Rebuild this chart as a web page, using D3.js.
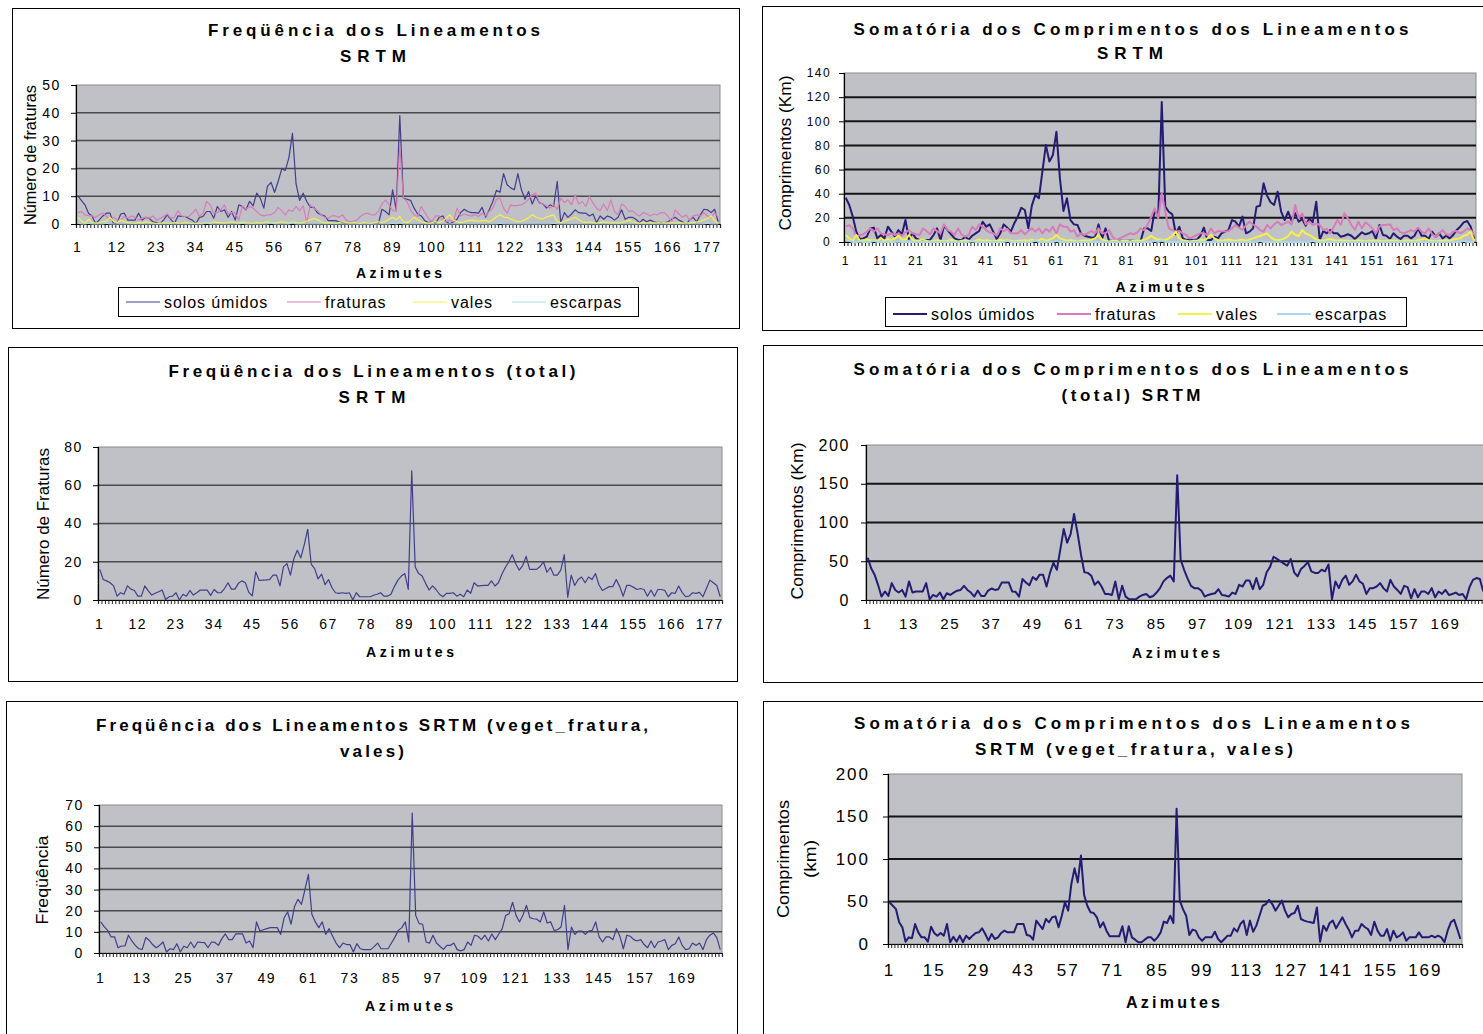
<!DOCTYPE html>
<html lang="pt">
<head>
<meta charset="UTF-8">
<title>Lineamentos SRTM</title>
<script src="https://cdnjs.cloudflare.com/ajax/libs/d3/7.8.5/d3.min.js"></script>
<style>
  html, body { margin: 0; padding: 0; background: #fff; }
  svg { display: block; font-family: "Liberation Sans", Arial, sans-serif; }
</style>
</head>
<body>
<script>
// azimuth classes 1..180
const azimutes = d3.range(1, 181);

const legendNames = ["solos úmidos", "fraturas", "vales", "escarpas"];

const labels11 = [1, 12, 23, 34, 45, 56, 67, 78, 89, 100, 111, 122, 133, 144, 155, 166, 177];
const labels10 = [1, 11, 21, 31, 41, 51, 61, 71, 81, 91, 101, 111, 121, 131, 141, 151, 161, 171];
const labels12 = [1, 13, 25, 37, 49, 61, 73, 85, 97, 109, 121, 133, 145, 157, 169];
const labels14 = [1, 15, 29, 43, 57, 71, 85, 99, 113, 127, 141, 155, 169];

const ticksFreq50 = [0, 10, 20, 30, 40, 50];
const ticksComp140 = [0, 20, 40, 60, 80, 100, 120, 140];
const ticksFreq80 = [0, 20, 40, 60, 80];
const ticksComp200 = [0, 50, 100, 150, 200];
const ticksFreq70 = [0, 10, 20, 30, 40, 50, 60, 70];

// --- Freqüência por tipo (SRTM)
const freqSolosUmidos = [
  10.1, 8.5, 6.9, 3.9, 2.9, 0, 1.5, 2.9, 3.9, 3.9,
  0, 0.5, 3.6, 3.9, 1.4, 1.4, 1.4, 3.9, 1.4, 2.4,
  2, 0.8, 0.5, 0, 1.5, 3.3, 1.7, 0.2, 2.9, 2.7,
  2.7, 2, 1.4, 0.2, 2.4, 2.7, 4.5, 4.5, 2.1, 6.3,
  4.5, 5.1, 2.4, 4.5, 1.4, 6.9, 6.3, 5.1, 8.1, 6.5,
  11.1, 9.3, 5.7, 13.5, 15, 11.4, 15.3, 19.8, 19.3, 23.8,
  32.6, 14.5, 8.5, 11.1, 8.1, 6, 6, 4, 3.3, 2.9,
  1.2, 1.2, 1.2, 0.8, 0.5, 0.2, 0, 0, 0, 0,
  0, 0, 0, 0, 0, 5.3, 4.5, 3.3, 12.3, 5.1,
  39, 9.3, 8.9, 8.5, 5.7, 3.6, 2.9, 1.2, 0.5, 0.8,
  0.2, 2.4, 2.9, 0.8, 0, 0.8, 1.7, 4.1, 5.3, 4.5,
  4.1, 4.1, 3.9, 6, 2.4, 5.1, 8.1, 12.1, 11.4, 18.1,
  14.1, 13, 12.3, 18.1, 12.3, 8.9, 11.7, 7.2, 10.1, 7.7,
  7.2, 5.7, 6.9, 6.3, 15.3, 0.5, 4.1, 2.4, 3.6, 5.1,
  4.1, 3.9, 3.9, 2.9, 3.6, 0.5, 2.9, 1.7, 2.9, 2.4,
  1.4, 2.4, 5.1, 1.7, 2.4, 2.4, 1.7, 0.5, 1.7, 0.8,
  1.4, 0.8, 0.5, 0.8, 0.5, 0.8, 1.7, 2.4, 1.4, 0.8,
  0, 1.4, 2.4, 0.8, 3.3, 5.3, 5.1, 4.1, 5.3, 0.8
];
const freqFraturas = [
  4.1, 4.5, 3.3, 3, 2.9, 2.4, 3.3, 3.9, 2.7, 1.7,
  2.4, 1.4, 1.4, 2.7, 2.1, 2.9, 2.4, 1.4, 2.1, 2.4,
  2.1, 2.9, 1.4, 2, 2.7, 3.6, 2.1, 2.4, 4.8, 2.9,
  2.7, 2.7, 3.9, 5.3, 2.7, 3.9, 8.1, 6.9, 3.9, 4.1,
  5.3, 6.9, 3.6, 4.1, 3.9, 1.4, 6.5, 5.3, 6.3, 5.7,
  4.5, 3.3, 2.9, 3.3, 3.3, 4.1, 6, 4.8, 3.3, 5.1,
  4.5, 6.3, 4.8, 6.5, 0.5, 6.9, 5.7, 4.8, 3.3, 2.4,
  2.1, 2.9, 2.9, 2.4, 3.3, 1.4, 0.8, 1, 1.4, 2.7,
  3.6, 3.9, 3.3, 3.3, 4.5, 7.2, 8.7, 6.9, 4.8, 4.5,
  28, 9.3, 8.1, 5.1, 3.3, 2.7, 6.3, 4.1, 2.1, 0.8,
  2.9, 2.9, 1.4, 0.8, 1.4, 1, 5.7, 2.9, 3.6, 3.2,
  2.9, 3.3, 2.7, 3.9, 2.9, 4.5, 5.7, 8.9, 9.3, 5.7,
  3.9, 6.9, 6.5, 6.7, 6.9, 7.7, 8.9, 10.5, 11.1, 7.7,
  7.2, 6.5, 5.7, 6.9, 5.3, 9.3, 7.7, 8.7, 6.9, 10.5,
  7.2, 8.1, 6.3, 9.9, 7.5, 5.7, 4.8, 7.2, 4.8, 8.7,
  4.5, 3.3, 7.2, 6.3, 4.5, 4.8, 3.6, 2.9, 4.1, 3.6,
  2.9, 3.6, 3.3, 4.1, 4.1, 2.7, 0.8, 5.1, 3.6, 2.4,
  3.3, 1.4, 2.9, 3.3, 2.9, 4.1, 2.9, 2.4, 4.1, 2.4
];
const freqVales = [
  2.4, 1.2, 0.2, 1.7, 0.5, 0.3, 0.5, 0.8, 1, 2.4,
  1, 0.5, 1.4, 0.8, 0.5, 0.3, 0.2, 0.5, 0.3, 0.8,
  0.5, 0.3, 0.2, 0.2, 0.5, 0.3, 0.2, 0.5, 0.3, 0.2,
  0.5, 0.3, 0.2, 0.3, 0.2, 0.3, 0.5, 0.2, 0.8, 0.5,
  0.5, 0.3, 0.5, 0.8, 0.5, 0.3, 0.8, 0.5, 0.3, 0.2,
  0.5, 0.3, 0.5, 0.8, 0.5, 0.3, 0.5, 0.8, 0.5, 0.3,
  0.8, 0.5, 0.3, 0.5, 1, 1.5, 2, 1.5, 0.8, 0.3,
  0.5, 0.3, 0.2, 0.5, 0.8, 0.5, 0.3, 0.5, 0.3, 0.2,
  0.5, 0.3, 0.2, 0.5, 0.8, 0.5, 1, 1.7, 2.4, 1.5,
  2.7, 0.8, 0.5, 1.2, 2.4, 1.5, 0.8, 0.5, 0.3, 0.5,
  0.8, 0.5, 1, 2.2, 3.3, 1.4, 0.8, 0.5, 0.8, 1.2,
  1.4, 1.2, 1, 1.2, 1.2, 0.8, 1.5, 2.5, 3.3, 2.5,
  2.4, 1.8, 1.2, 0.8, 1, 1.5, 2.2, 3.3, 2.5, 2,
  1.8, 2.5, 2.9, 3.3, 0.8, 0.5, 1, 1.5, 1.8, 2.4,
  1.5, 0.8, 0.5, 0.8, 0.5, 0.3, 0.5, 0.8, 0.5, 0.3,
  0.5, 0.3, 0.5, 0.8, 1.4, 0.8, 0.5, 0.3, 0.5, 0.3,
  0.5, 0.3, 0.5, 0.8, 0.5, 0.3, 0.5, 0.3, 0.5, 0.3,
  0.5, 0.3, 0.5, 0.8, 1, 1.5, 2, 2.9, 1.2, 0.3
];
const freqEscarpas = [
  0.5, 0, 0, 0.3, 0, 0, 0, 0, 0.3, 0,
  0, 0, 0, 0, 0, 0, 0, 0, 0, 0,
  0, 0, 0, 0, 0, 0, 0, 0, 0, 0,
  0, 0, 0, 0, 0, 0, 0.5, 0, 0, 0,
  0, 0, 0, 0, 0, 0, 0.3, 0, 0, 0,
  0, 0, 0, 0, 0.5, 0, 0, 0, 0, 0,
  0.5, 0, 0, 0, 0, 0, 0, 0, 0, 0,
  0, 0, 0, 0, 0, 0, 0, 0, 0, 0,
  0, 0, 0, 0, 0, 0, 0, 0, 0.3, 0,
  0.5, 0, 0, 0, 0, 0, 0, 0, 0, 0,
  0, 0, 0, 0, 0, 0, 0, 0, 0, 0,
  0, 0, 0, 0, 0, 0, 0, 0, 0.3, 0,
  0, 0, 0, 0, 0, 0, 0, 0, 0, 0,
  0, 0, 0, 0.3, 0, 0, 0, 0, 0, 0,
  0, 0, 0, 0, 0, 0, 0, 0, 0, 0,
  0, 0, 0, 0, 0, 0, 0, 0, 0, 0,
  0, 0, 0, 0, 0, 0, 0, 0, 0, 0,
  0, 0, 0, 0, 0, 0, 0.3, 0, 0, 0
];

// --- Somatória dos comprimentos por tipo (km)
const compSolosUmidos = [
  36.7, 30.7, 21, 8.6, 2.5, 3, 4.4, 11.3, 11.9, 3,
  5.8, 3, 12.7, 8.6, 4.4, 9.9, 6.4, 18.2, 2.5, 7.2,
  3, 1.7, 1.7, 1.7, 1.7, 5.8, 11.3, 1.7, 13.5, 9.9,
  6.4, 3, 1.7, 1.7, 4.4, 2, 5.2, 7.2, 9.1, 16.8,
  12.7, 14.6, 8.6, 2.5, 7.2, 14.6, 11.9, 8.6, 15.5, 21,
  28.4, 26.5, 11.3, 30.1, 39, 36.2, 58.3, 80.4, 66.6, 72.1,
  91.4, 52.7, 25.7, 36.2, 18.2, 14.6, 14.1, 7.2, 5.2, 4.4,
  3.6, 4, 14.6, 3, 11.3, 1, 1, 1, 1, 1,
  1, 1, 1, 1, 1, 11.3, 11.3, 9.1, 26.5, 21,
  116, 29.3, 25.1, 22.9, 6.4, 12.7, 3, 1.7, 2, 1.7,
  2, 5.2, 11.9, 1.7, 1.7, 4.4, 3, 7.2, 8.6, 9.9,
  18.2, 16.8, 12.7, 21, 7.2, 8.6, 11.3, 29.3, 30.1, 48.6,
  38.4, 32.9, 30.7, 41.7, 25.1, 18.2, 25.1, 17.4, 23.8, 16.8,
  19.1, 13.5, 19.6, 16.3, 33.4, 1.7, 9.1, 7.2, 9.9, 7.2,
  7.2, 4.4, 5.2, 6.4, 5.2, 2.5, 5.2, 8, 6.4, 7.2,
  9.1, 2.5, 14.1, 5.8, 5.2, 2.5, 7.2, 4.4, 2.5, 5.2,
  5.2, 3, 5.2, 11.3, 5.2, 5.2, 2.5, 8.6, 4.4, 7.2,
  3, 5.2, 3, 5.8, 9.9, 12.7, 16.3, 17.4, 12.7, 2.5
];
const compFraturas = [
  12.7, 14, 11.3, 4.4, 5.8, 6.4, 8.5, 11.3, 8.6, 11.3,
  7.2, 6.5, 5.8, 7.2, 5.8, 7.2, 5.2, 8, 9.9, 7.2,
  6.5, 5.8, 11.3, 9.1, 6.4, 11.3, 9, 7.2, 14.6, 10,
  8.6, 5.8, 11.3, 6, 4.4, 5.8, 12.7, 9.9, 14.6, 12.7,
  9.9, 8, 7.2, 5.2, 11.3, 9.1, 10.8, 7.2, 7.2, 7.2,
  9.9, 6.4, 9.1, 11.3, 8.6, 11.3, 7.2, 10.8, 8.6, 12.7,
  7.2, 14.6, 12.7, 12.7, 8.6, 9.9, 4.4, 7.2, 5.8, 7.5,
  9.1, 7.2, 11.3, 7.2, 7.2, 9.9, 4.4, 1.7, 3, 4.4,
  5.8, 7.2, 6.4, 8, 11.3, 9.9, 14.6, 21, 27.9, 19.6,
  40.3, 25.1, 11.3, 9.9, 8.6, 9.1, 7.2, 5.8, 3, 4.4,
  5.8, 7.2, 7.2, 5.8, 11.3, 7.2, 9.1, 8.8, 8.6, 9.1,
  11.3, 14.1, 11.9, 9.9, 14.1, 16.8, 14.5, 12.7, 9.9, 8.6,
  14.1, 11.3, 14.6, 16.8, 14.1, 15.5, 16.8, 14.6, 30.7, 19.6,
  23.8, 14.6, 16.8, 14.1, 15.5, 14.1, 9.9, 10.8, 7.2, 12.7,
  18.2, 14.1, 23.8, 19.6, 14.1, 9.9, 16.8, 11.3, 16.3, 14.1,
  11.3, 7.2, 12.7, 14.1, 14.3, 14.6, 9.9, 11.3, 8, 7.2,
  8.5, 9.9, 8.6, 11.9, 8.6, 7.2, 11.3, 6.4, 4.4, 7.2,
  9.9, 6.4, 5.8, 8.6, 9.1, 7.2, 8.6, 11.3, 9.9, 5.8
];
const compVales = [
  5.8, 3, 1, 5.8, 1, 1.5, 2, 1.5, 1.5, 1,
  3, 1, 2.5, 1.5, 3, 5.2, 2, 2, 5.8, 2,
  1, 1.5, 2, 1, 0.5, 1, 1.5, 1, 0.5, 1,
  2, 1, 0.5, 1, 1.5, 1, 0.5, 1, 2, 1,
  1.5, 1, 0.5, 1, 2, 1, 1.5, 1, 0.5, 1,
  1, 1.5, 1, 2, 1, 1.5, 2.5, 1, 2, 3,
  5.8, 3, 2, 1, 1.5, 1, 0.5, 1, 1.5, 1,
  2, 3, 5.8, 2, 1, 0.5, 1, 1, 0.5, 1,
  1, 0.5, 1, 1.5, 1, 2, 3, 5.2, 3, 2,
  2, 1.5, 3, 5, 8.6, 3, 1.5, 1, 0.5, 1,
  1, 2, 1.5, 3, 5.8, 3, 1.5, 1, 1.5, 2,
  1.5, 1, 1.5, 2, 1, 2, 3, 4, 5, 6,
  7.2, 4, 2, 1.5, 2, 3, 5, 8.6, 6, 5,
  9.9, 7, 5.8, 4, 2, 1.5, 1, 2, 2.5, 1.5,
  1, 1.5, 1, 1, 0.5, 1, 1.5, 1, 0.5, 1,
  1, 1.5, 1, 0.5, 1, 1.5, 1, 1, 0.5, 1,
  1.5, 1, 0.5, 1.5, 2, 3, 1.5, 1, 0.5, 1,
  1, 1.5, 1, 2, 2.5, 3, 5.2, 6, 8.6, 1
];
const compEscarpas = [
  2, 1, 0, 0, 0.5, 0, 0, 0, 1, 0,
  0, 0, 0, 0, 0, 0.5, 0, 0, 0, 0,
  0, 0, 0, 0, 0, 0, 0, 0, 0, 0,
  0, 0, 0, 0, 0, 0, 1, 0, 0, 0,
  0, 0, 0, 0, 0, 0, 1, 0, 0, 0,
  0, 0, 0, 0, 1.5, 0, 0, 0, 0, 0,
  1, 0, 0, 0, 0, 0, 0, 0, 0, 0,
  0, 0, 0, 0, 0, 0, 0, 0, 0, 0,
  0, 0, 0, 0, 0, 0, 0, 0, 1, 0,
  1.5, 0, 0, 0, 0, 0, 0, 0, 0, 0,
  0, 0, 0, 0, 0, 0, 0, 0, 0, 0,
  0, 0, 0, 0, 0, 0, 0, 0, 1, 0,
  0, 0, 0, 0, 0, 0, 0, 0, 0, 0,
  0, 0, 0, 1, 0, 0, 0, 0, 0, 0,
  0, 0, 0, 0, 0, 0, 0, 0, 0, 0,
  0, 0, 0, 0, 0, 0, 0, 0, 0, 0,
  0, 0, 0, 0, 0, 0, 0, 0, 0, 0,
  0, 0, 0, 0, 0, 0, 1, 0, 0, 0
];

// --- Totais
const freqTotal = [
  16, 10.7, 10, 9, 7.4, 2, 3.8, 3, 7.4, 5.7,
  5, 2, 2, 7.4, 4.8, 2.6, 3.5, 4.3, 5.2, 0.3,
  1.7, 2, 3.8, 0, 3, 2, 5, 2.6, 3.8, 5.2,
  5.2, 5.2, 2.4, 5.5, 3.8, 3.8, 6, 9, 5.7, 5.7,
  8.7, 10, 9, 4, 2.2, 14.7, 10.2, 10.4, 10.5, 10.7,
  13, 13, 7.4, 17.3, 19, 13, 21.6, 26, 22, 29,
  37, 18.7, 16.4, 11, 13.5, 8, 10.7, 6.4, 3.8, 3.5,
  3.8, 3.5, 3.8, 0, 3.8, 1.7, 1.7, 1.7, 1.7, 2.5,
  3, 3.8, 2, 2, 3, 7, 10.4, 12.5, 13.8, 5.5,
  67.5, 17.3, 13.8, 12.5, 8.7, 5.2, 7.4, 5.5, 3, 1.7,
  3.5, 3.5, 3.8, 2, 3, 1.7, 5.2, 3.5, 9, 7.3,
  7.5, 7.6, 7.6, 10, 7.3, 9, 13.5, 17, 20, 23.7,
  19, 15.6, 18, 22.8, 16, 16, 16, 17.5, 20, 14.5,
  17, 13, 13, 15.6, 23.7, 1.4, 13, 7.6, 10.7, 12,
  9, 12, 10.7, 13.8, 8, 5, 6, 7, 7, 10.7,
  7, 2, 7.6, 7.6, 6.6, 5.5, 6, 5.5, 2, 5.2,
  2, 5.5, 5.5, 5, 1.7, 3.8, 3.5, 7.3, 4, 1.7,
  2, 3.8, 3.5, 4, 1.7, 6, 10.4, 9, 7.6, 1.7
];
const compTotal = [
  54.5, 41, 32.7, 19.6, 4.4, 11, 5.2, 21.8, 13, 9.6,
  13, 4.4, 24, 9.6, 11, 11, 11, 21.8, 0.9, 6.5,
  4.4, 9.6, 0.9, 8.7, 6.5, 9.6, 12, 13, 18.3, 13,
  9.6, 4.4, 12.2, 5.2, 5.2, 12.2, 14.8, 13, 14, 22.7,
  22.7, 22.7, 11, 10.5, 4.4, 27, 22.7, 19, 29.6, 26,
  32.7, 32.7, 17.4, 35, 48, 39, 65, 91.5, 74, 85,
  111, 87, 59, 35.7, 35, 31.4, 19.6, 24, 17.4, 7.8,
  7.8, 6.5, 24, 0.9, 18.3, 4.4, 0.9, 0.9, 0.9, 4.4,
  6.5, 7.8, 3.5, 5.2, 9.6, 15.3, 24, 28.3, 31.4, 24,
  161, 52, 39, 28, 18.3, 15.3, 15.3, 12.2, 4.4, 6.5,
  7.8, 8.7, 14, 6.5, 5.7, 4.4, 9.6, 7.8, 19.6, 17.4,
  25.3, 25.3, 14, 28.3, 14, 19.6, 35.7, 42.7, 55.8, 53,
  50, 47, 44.4, 53, 35.7, 30.5, 40, 44, 48.8, 37,
  35, 35, 39, 37, 45.8, 0.9, 24, 15.3, 26, 31.4,
  19.6, 24, 32.7, 24, 21, 7.8, 15.3, 15.3, 17.4, 21.8,
  15, 11, 26, 17.4, 13, 7.8, 18.3, 16.6, 2.2, 14,
  3.5, 11, 11, 7.8, 15.3, 3.5, 11, 7.8, 13, 6.5,
  7.8, 9.6, 6.5, 7.8, 0.9, 16.6, 26, 28.3, 27, 11
];

// --- veget_fratura, vales
const freqVegetVales = [
  14.7, 12.5, 10.7, 7.6, 7.6, 2.5, 3.3, 3.3, 8.4, 5.7,
  3.6, 2, 1.7, 7.3, 6, 4, 2.5, 3.6, 5.2, 0.5,
  2, 1.6, 4.4, 0.5, 3.2, 2.5, 5.2, 2.5, 5.2, 5,
  4.9, 2.5, 5.2, 5, 3.6, 6.8, 9, 6.3, 6.3, 9,
  9, 9, 4.7, 5.7, 2.5, 14.7, 10.4, 11, 11.5, 12,
  12, 12, 8.8, 16.7, 19.4, 13.6, 22, 25.4, 23, 30,
  37.2, 18.3, 14.7, 12, 14.7, 8.8, 11.5, 7.9, 4.7, 2.5,
  4.7, 4, 4, 0.5, 4.4, 2, 1.6, 1.6, 1.6, 3,
  4.7, 2, 2, 2, 4.7, 7.5, 10.7, 12, 14.7, 5.2,
  66.2, 17.8, 13.9, 13.6, 5.2, 4.7, 8.4, 4.7, 3.2, 1.7,
  3.6, 3.6, 4.7, 1.6, 1, 1.6, 5.2, 3.6, 8.4, 7.9,
  6.3, 8.4, 5.7, 9, 6.3, 9, 11.5, 17.8, 18.6, 24,
  17.8, 14.7, 18, 22.5, 16.7, 16.2, 16, 14.7, 19.4, 14.2,
  14.7, 10.7, 11, 12.3, 22.5, 1.6, 12.3, 8.8, 10.4, 10.4,
  8.8, 10.4, 10.7, 14.7, 7.6, 5.2, 7.6, 7.6, 6.3, 11.5,
  7.9, 2, 8.4, 7.9, 6.3, 5.7, 6.3, 4, 2.5, 5.7,
  2.5, 5.2, 5.7, 6.3, 1.6, 3.6, 4.4, 7.6, 3.6, 1.6,
  2, 4.7, 3.6, 4.7, 1.6, 6.3, 8.4, 9.5, 7.3, 1.6
];
const compVegetVales = [
  49, 45, 41, 25.5, 19.6, 2.7, 7.8, 6.7, 23.5, 13.7,
  7.8, 7.8, 2.7, 20.4, 13, 9.8, 13, 9.8, 23.5, 2,
  8.6, 2.7, 9.8, 2, 9.8, 5.9, 9.8, 13, 13.7, 18.4,
  11.8, 3.9, 11.8, 5.9, 7.8, 13, 15.7, 13.7, 13.7, 13.7,
  23.5, 23.5, 23.5, 10.6, 9.8, 5.1, 27.5, 22.4, 17.6, 29.4,
  25.5, 31.4, 32.5, 19.6, 33.3, 49, 39.2, 70.6, 89, 72.5,
  104, 57.6, 45, 37.3, 36.5, 31.4, 19.6, 25.5, 15.7, 9,
  9, 9, 9, 20.8, 2, 20.8, 7.8, 5.1, 2, 2,
  5.1, 7.8, 7.8, 3.9, 7.8, 13.7, 26.3, 24.7, 33.3, 24.7,
  159, 51, 41, 33.3, 10.6, 16.9, 15.7, 7.8, 3.9, 7.8,
  7.8, 7.8, 14.5, 5.9, 2, 5.9, 9.8, 9.8, 18.4, 14.5,
  23.5, 27.5, 10.6, 27.5, 14.5, 21.6, 33.3, 45, 47, 52,
  47, 39.2, 45, 51, 39.2, 31.4, 35.3, 36.5, 45, 29.4,
  27.5, 26.3, 25.5, 24.7, 43, 2.7, 21.6, 15.7, 24.7, 27.5,
  18.4, 25, 31.4, 23.5, 16.9, 7.8, 15.7, 15.7, 23.5, 20,
  17.6, 10.6, 26.3, 15.7, 9.8, 9.8, 17.6, 3.9, 15.7, 7.8,
  9.8, 13.7, 3.9, 7.8, 7.8, 7.8, 13.7, 7.8, 7.8, 7.8,
  9.8, 7.8, 9.8, 7.8, 2, 15.7, 25.5, 28.6, 17.6, 5.9
];

const navyThin = "#433d8c", navy = "#241c72", pink = "#d77cb9", yellow = "#f3f14a", lightBlue = "#a8d8f0";
const narrowFont = '"Liberation Sans Narrow", "Liberation Sans", Arial, sans-serif';

const svg = d3.select("body").append("svg").attr("width", 1483).attr("height", 1034);

function drawPanel(c) {
  const g = svg.append("g");
  const [x0, y0, x1, y1] = c.plot;

  g.append("rect")
    .attr("x", c.box[0] + 0.5).attr("y", c.box[1] + 0.5)
    .attr("width", c.box[2]).attr("height", c.box[3])
    .attr("fill", "#fff").attr("stroke", "#000");

  c.titles.forEach(t => {
    g.append("text").attr("x", t.x).attr("y", t.y).attr("text-anchor", "middle")
      .attr("font-weight", "bold").attr("font-size", 17)
      .attr("textLength", t.w).attr("lengthAdjust", "spacing")
      .text(t.text);
  });

  const x = d3.scaleBand().domain(azimutes).range([x0, x1]);
  const xEdge = d3.scaleLinear().domain([0, azimutes.length]).range([x0, x1]);
  const y = d3.scaleLinear().domain([0, c.yMax]).range([y1, y0]);

  g.append("rect").attr("x", x0).attr("y", y0).attr("width", x1 - x0).attr("height", y1 - y0)
    .attr("fill", "#c0c1c6").attr("stroke", "#8c8c8c");

  g.append("g").selectAll("line").data(c.yTicks.filter(v => v > 0 && v < c.yMax)).join("line")
    .attr("x1", x0).attr("x2", x1)
    .attr("y1", d => y(d)).attr("y2", d => y(d))
    .attr("stroke", c.gridColor).attr("stroke-width", c.gridWidth);

  // category tick marks
  g.append("g").attr("transform", `translate(0,${y1})`)
    .call(d3.axisBottom(xEdge).tickValues(d3.range(0, azimutes.length + 1)).tickSize(4).tickFormat(""))
    .call(a => a.select(".domain").attr("stroke", "#000").attr("stroke-width", 1.2))
    .call(a => a.selectAll(".tick line").attr("stroke", "#222"));

  // category labels
  g.append("g").attr("transform", `translate(0,${y1})`)
    .call(d3.axisBottom(x).tickValues(c.xLabels).tickSize(0).tickPadding(c.xPad))
    .attr("font-family", null).attr("font-size", c.tickFont)
    .call(a => a.select(".domain").remove())
    .selectAll("text").attr("fill", "#000").attr("letter-spacing", c.tickSpacing);

  // value axis
  g.append("g").attr("transform", `translate(${x0},0)`)
    .call(d3.axisLeft(y).tickValues(c.yTicks).tickSize(5).tickPadding(c.yPad))
    .attr("font-family", null).attr("font-size", c.yTickFont)
    .call(a => a.select(".domain").attr("stroke", "#000").attr("stroke-width", 1.2))
    .call(a => a.selectAll(".tick line").attr("stroke", "#000"))
    .selectAll("text").attr("fill", "#000").attr("letter-spacing", c.tickSpacing);

  const line = d3.line()
    .x((d, i) => x(azimutes[i]) + x.bandwidth() / 2)
    .y(d => y(d));

  c.series.forEach(s => {
    g.append("path").datum(s.values)
      .attr("d", line).attr("fill", "none")
      .attr("stroke", s.color).attr("stroke-width", c.lineWidth)
      .attr("stroke-linejoin", "round");
  });

  c.yLabel.forEach(l => {
    g.append("text").attr("transform", `translate(${l.x},${l.y}) rotate(-90)`)
      .attr("text-anchor", "middle").attr("font-family", narrowFont)
      .attr("font-size", l.size).attr("textLength", l.w).attr("lengthAdjust", "spacingAndGlyphs")
      .text(l.text);
  });

  g.append("text").attr("x", c.azim.x).attr("y", c.azim.y).attr("text-anchor", "middle")
    .attr("font-weight", "bold").attr("font-size", c.azim.size)
    .attr("textLength", c.azim.w).attr("lengthAdjust", "spacing")
    .text("Azimutes");

  if (c.legend) {
    const L = c.legend;
    g.append("rect").attr("x", L.box[0] + 0.5).attr("y", L.box[1] + 0.5)
      .attr("width", L.box[2]).attr("height", L.box[3])
      .attr("fill", "#fff").attr("stroke", "#000");
    c.series.forEach((s, i) => {
      const e = L.items[i];
      g.append("line").attr("x1", e[0]).attr("x2", e[0] + 34)
        .attr("y1", L.lineY).attr("y2", L.lineY)
        .attr("stroke", s.color).attr("stroke-width", L.lineWidth);
      g.append("text").attr("x", e[0] + 38).attr("y", L.textY)
        .attr("font-size", 16).attr("letter-spacing", 0.9)
        .text(legendNames[i]);
    });
  }
}

// 1 - frequência por tipo
drawPanel({
  box: [12, 8, 727, 320], plot: [76, 85, 720, 224],
  yMax: 50, yTicks: ticksFreq50, xLabels: labels11,
  xPad: 18, yPad: 10, tickFont: 14, yTickFont: 14, tickSpacing: 1.6,
  gridColor: "#4a4a4a", gridWidth: 1.5, lineWidth: 1.2,
  titles: [{ text: "Freqüência dos Lineamentos", x: 374, y: 36, w: 332 },
           { text: "SRTM", x: 373, y: 62, w: 66 }],
  yLabel: [{ text: "Número de fraturas", x: 36, y: 155, size: 17, w: 140 }],
  azim: { x: 399, y: 278, w: 86, size: 14 },
  series: [{ values: freqSolosUmidos, color: navyThin }, { values: freqFraturas, color: pink },
           { values: freqVales, color: yellow }, { values: freqEscarpas, color: lightBlue }],
  legend: { box: [118, 287, 520, 29], lineY: 302, textY: 308, lineWidth: 1.2,
            items: [[126], [287], [413], [512]] }
});

// 2 - comprimentos por tipo
drawPanel({
  box: [762, 6, 740, 324], plot: [844, 73, 1476, 242],
  yMax: 140, yTicks: ticksComp140, xLabels: labels10,
  xPad: 14, yPad: 8, tickFont: 12, yTickFont: 12, tickSpacing: 1.4,
  gridColor: "#141414", gridWidth: 2, lineWidth: 2,
  titles: [{ text: "Somatória dos Comprimentos dos Lineamentos", x: 1131, y: 35, w: 555 },
           { text: "SRTM", x: 1130, y: 59, w: 66 }],
  yLabel: [{ text: "Comprimentos (Km)", x: 791, y: 153, size: 17, w: 155 }],
  azim: { x: 1160, y: 292, w: 89, size: 14 },
  series: [{ values: compSolosUmidos, color: navy }, { values: compFraturas, color: pink },
           { values: compVales, color: yellow }, { values: compEscarpas, color: lightBlue }],
  legend: { box: [885, 297, 521, 29], lineY: 314, textY: 320, lineWidth: 2,
            items: [[893], [1057], [1178], [1277]] }
});

// 3 - frequência total
drawPanel({
  box: [8, 347, 729, 334], plot: [98, 447, 722, 600],
  yMax: 80, yTicks: ticksFreq80, xLabels: labels11,
  xPad: 19, yPad: 10, tickFont: 14, yTickFont: 14, tickSpacing: 1.6,
  gridColor: "#4a4a4a", gridWidth: 1.5, lineWidth: 1.2,
  titles: [{ text: "Freqüência dos Lineamentos (total)", x: 372, y: 377, w: 407 },
           { text: "SRTM", x: 372, y: 403, w: 67 }],
  yLabel: [{ text: "Número de Fraturas", x: 49, y: 524, size: 17, w: 152 }],
  azim: { x: 410, y: 657, w: 88, size: 14 },
  series: [{ values: freqTotal, color: navyThin }]
});

// 4 - comprimento total
drawPanel({
  box: [763, 345, 740, 337], plot: [866, 445, 1485, 600],
  yMax: 200, yTicks: ticksComp200, xLabels: labels12,
  xPad: 18, yPad: 11, tickFont: 15, yTickFont: 16, tickSpacing: 1.6,
  gridColor: "#141414", gridWidth: 2, lineWidth: 2,
  titles: [{ text: "Somatória dos Comprimentos dos Lineamentos", x: 1131, y: 375, w: 555 },
           { text: "(total) SRTM", x: 1131, y: 401, w: 139 }],
  yLabel: [{ text: "Comprimentos (Km)", x: 803, y: 521, size: 17, w: 157 }],
  azim: { x: 1176, y: 658, w: 88, size: 14 },
  series: [{ values: compTotal, color: navy }]
});

// 5 - frequência veget_fratura, vales
drawPanel({
  box: [6, 701, 731, 345], plot: [99, 805, 722, 953],
  yMax: 70, yTicks: ticksFreq70, xLabels: labels12,
  xPad: 20, yPad: 10, tickFont: 14, yTickFont: 14, tickSpacing: 1.6,
  gridColor: "#4a4a4a", gridWidth: 1.5, lineWidth: 1.2,
  titles: [{ text: "Freqüência dos Lineamentos SRTM (veget_fratura,", x: 372, y: 731, w: 552 },
           { text: "vales)", x: 372, y: 757, w: 64 }],
  yLabel: [{ text: "Freqüência", x: 48, y: 880, size: 17, w: 89 }],
  azim: { x: 409, y: 1011, w: 88, size: 14 },
  series: [{ values: freqVegetVales, color: navyThin }]
});

// 6 - comprimentos veget_fratura, vales
drawPanel({
  box: [763, 701, 740, 345], plot: [888, 774, 1462, 944],
  yMax: 200, yTicks: ticksComp200, xLabels: labels14,
  xPad: 20, yPad: 13, tickFont: 17, yTickFont: 17, tickSpacing: 2,
  gridColor: "#141414", gridWidth: 2, lineWidth: 2,
  titles: [{ text: "Somatória dos Comprimentos dos Lineamentos", x: 1132, y: 729, w: 556 },
           { text: "SRTM (veget_fratura, vales)", x: 1134, y: 755, w: 318 }],
  yLabel: [{ text: "Comprimentos", x: 789, y: 859, size: 17, w: 118 },
           { text: "(km)", x: 816, y: 859, size: 17, w: 38 }],
  azim: { x: 1173, y: 1008, w: 94, size: 16 },
  series: [{ values: compVegetVales, color: navy }]
});
</script>
</body>
</html>
